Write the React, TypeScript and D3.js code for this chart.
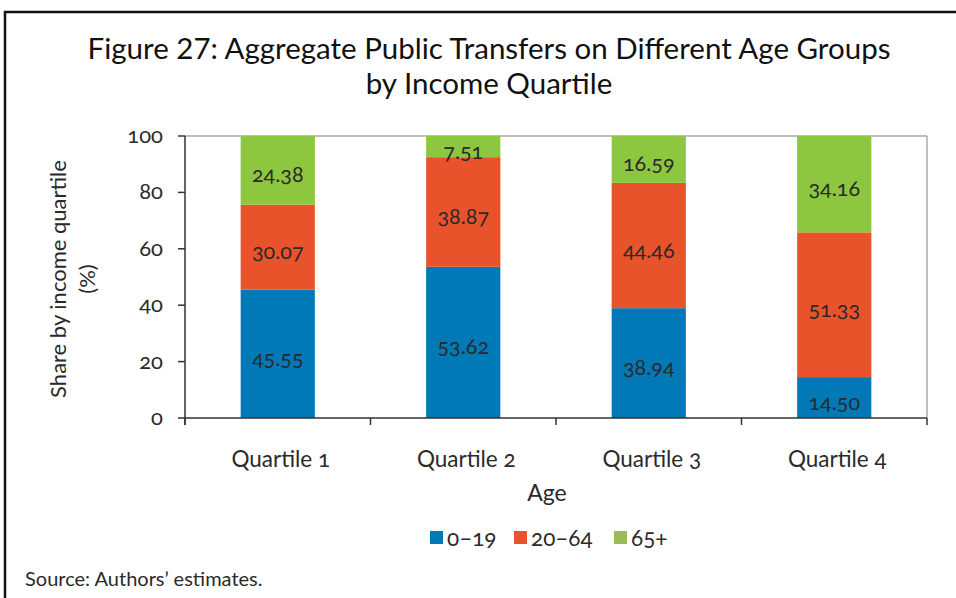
import React from "react";
import * as d3 from "d3";

const categories = ["Quartile 1", "Quartile 2", "Quartile 3", "Quartile 4"];
const seriesNames = ["0–19", "20–64", "65+"];
const age0to19 = [45.55, 53.62, 38.94, 14.5];
const age20to64 = [30.07, 38.87, 44.46, 51.33];
const age65plus = [24.38, 7.51, 16.59, 34.16];
const yTicks = [0, 20, 40, 60, 80, 100];
const barColors = ["#0079b6", "#e9532b", "#8dc63f"];
const legendColors = ["#0079b6", "#e9532b", "#9bbb59"];

const W = 956, H = 598;
const M = { left: 185, right: 927, top: 136, bottom: 418 };
const FONT = "Lato, 'Open Sans', sans-serif";

export default function App() {
  const x = d3.scaleBand().domain(categories).range([M.left, M.right]).paddingInner(0.6).paddingOuter(0.3);
  const xb = d3.scaleBand().domain(categories).range([M.left, M.right]);
  const y = d3.scaleLinear().domain([0, 100]).range([M.bottom, M.top]);
  const rows = categories.map((c, i) => ({ cat: c, s0: age0to19[i], s1: age20to64[i], s2: age65plus[i] }));
  const stack = d3.stack<any>().keys(["s0", "s1", "s2"])(rows);
  const fmt = d3.format(".2f");
  const numStyle: React.CSSProperties = { fontVariantNumeric: "oldstyle-nums" };

  const legendItems = [
    { x: 430, tx: 447 },
    { x: 514, tx: 531 },
    { x: 614, tx: 631 },
  ];

  return (
    <svg width={W} height={H} style={{ position: "absolute", left: 0, top: 0, fontFamily: FONT }}>
      <rect x={0} y={0} width={W} height={H} fill="#fff" />
      <rect x={5} y={12} width={1200} height={1200} fill="none" stroke="#111" strokeWidth={2.5} />
      <text x={489} y={59} textAnchor="middle" fontSize={29.5} fill="#111">
        Figure 27: Aggregate Public Transfers on Different Age Groups
      </text>
      <text x={489} y={94} textAnchor="middle" fontSize={29.5} fill="#111">
        by Income Quartile
      </text>

      {/* plot frame */}
      <line x1={M.left} x2={M.right} y1={M.top} y2={M.top} stroke="#aaa" strokeWidth={1.5} />
      <line x1={M.right} x2={M.right} y1={M.top} y2={M.bottom} stroke="#aaa" strokeWidth={1.5} />

      {/* bars */}
      {stack.map((layer, li) =>
        layer.map((d, i) => {
          const x0 = x(categories[i])!;
          const yTop = y(d[1]);
          const yBot = y(d[0]);
          const cy = (yTop + yBot) / 2;
          const v = [age0to19, age20to64, age65plus][li][i];
          return (
            <g key={`${li}-${i}`}>
              <rect x={x0} y={yTop} width={x.bandwidth()} height={yBot - yTop} fill={barColors[li]} />
              <text x={x0 + x.bandwidth() / 2} y={cy + 12} textAnchor="middle" fontSize={21.5} fill="#2a2a2a" style={numStyle}>
                {fmt(v)}
              </text>
            </g>
          );
        })
      )}

      {/* y axis */}
      <line x1={M.left} x2={M.left} y1={M.top} y2={M.bottom + 7} stroke="#333" strokeWidth={1.5} />
      {yTicks.map((t) => (
        <g key={t}>
          <line x1={M.left - 7} x2={M.left} y1={y(t)} y2={y(t)} stroke="#333" strokeWidth={1.5} />
          <text x={163} y={y(t) + 7} textAnchor="end" fontSize={22} fill="#2a2a2a" style={numStyle}>
            {t}
          </text>
        </g>
      ))}
      <text transform={`translate(66,279) rotate(-90)`} textAnchor="middle" fontSize={22} fill="#2a2a2a">
        Share by income quartile
      </text>
      <text transform={`translate(95,279) rotate(-90)`} textAnchor="middle" fontSize={22} fill="#2a2a2a">
        (%)
      </text>

      {/* x axis */}
      <line x1={M.left} x2={M.right} y1={M.bottom} y2={M.bottom} stroke="#333" strokeWidth={1.5} />
      {[...categories.map((c) => xb(c)!), M.right].map((tx, i) => (
        <line key={i} x1={tx} x2={tx} y1={M.bottom} y2={M.bottom + 7} stroke="#333" strokeWidth={1.5} />
      ))}
      {categories.map((c) => (
        <text key={c} x={xb(c)! + xb.bandwidth() / 2 + 3} y={467} textAnchor="middle" fontSize={22.5} fill="#2a2a2a" style={numStyle}>
          {c}
        </text>
      ))}
      <text x={547} y={501} textAnchor="middle" fontSize={23} fill="#2a2a2a">
        Age
      </text>

      {/* legend */}
      {seriesNames.map((n, i) => (
        <g key={n}>
          <rect x={legendItems[i].x} y={531} width={13} height={13} fill={legendColors[i]} />
          <text x={legendItems[i].tx} y={546} fontSize={22.5} fill="#2a2a2a" style={numStyle}>
            {n}
          </text>
        </g>
      ))}

      <text x={25} y={586} fontSize={20} fill="#2a2a2a">
        Source: Authors’ estimates.
      </text>
    </svg>
  );
}
